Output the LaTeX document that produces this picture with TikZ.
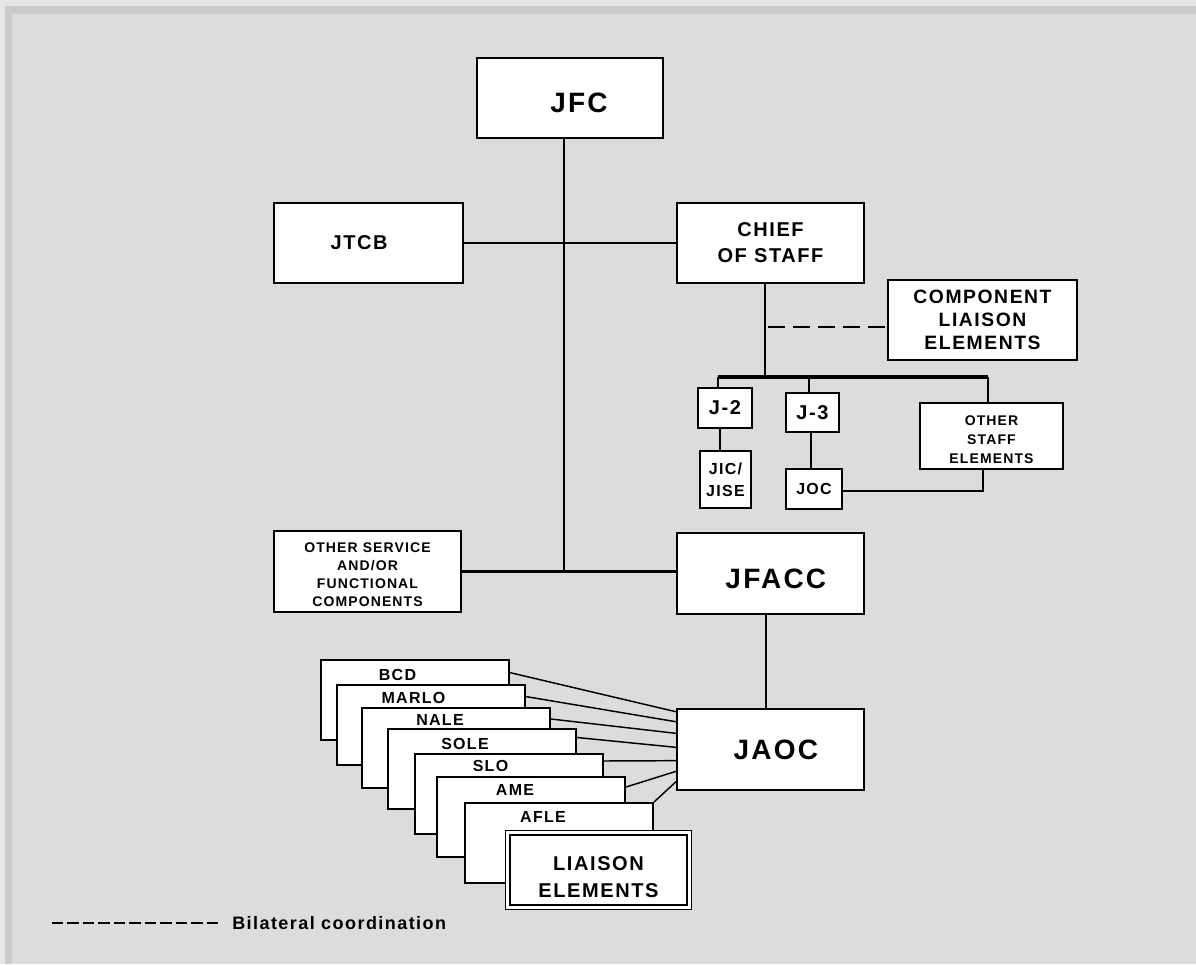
\documentclass[tikz,border=0pt]{standalone}
\usepackage{fontspec}
\newfontfamily\lab{Liberation Sans}[LetterSpace=8]
\usetikzlibrary{calc}
\definecolor{bg}{HTML}{DCDCDC}
\definecolor{bglight}{HTML}{E6E6E6}
\definecolor{bgdark}{HTML}{CBCBCB}
\newcommand{\fs}[2]{\lab\bfseries\fontsize{#1}{#2}\selectfont}
\begin{document}
\begin{tikzpicture}[x=0.75pt,y=-0.75pt,
  wh/.style 2 args={minimum width=#1*0.75pt,minimum height=#2*0.75pt},
  box/.style={draw=black,fill=white,line width=1.5pt,inner sep=0pt,align=center},
  stk/.style={draw=black,fill=white,line width=1.5pt,inner sep=0pt,wh={188}{80}},
  stklbl/.style={inner sep=0pt,font=\fs{12}{14}},
  conn/.style={line width=1.5pt},
  bar/.style={line width=2.4pt},
  thinconn/.style={line width=1.1pt},
  bilat/.style={line width=1.5pt,dash pattern=on 12.75pt off 6pt},
  legdash/.style={line width=1.5pt,dash pattern=on 8.6pt off 3pt}]
\useasboundingbox (0,0) rectangle (1196,964);
% background frame
\fill[bg] (0,0) rectangle (1196,964);
\fill[bglight] (0,0) rectangle (1196,6);
\fill[bglight] (0,0) rectangle (5,964);
\fill[bgdark] (5,6) rectangle (1196,14);
\fill[bgdark] (5,6) rectangle (12,964);

% main boxes
\node[box,wh={186}{80},font=\fs{21}{25}] (jfc) at (570,98) {\rule{0pt}{22.5pt}\hspace*{13.5pt}JFC};
\node[box,wh={189}{80},font=\fs{15}{19.5}] (jtcb) at (368.5,243) {JTCB\hspace*{14pt}};
\node[box,wh={187}{80},font=\fs{15}{19.5}] (cos) at (770.5,243) {CHIEF\\OF STAFF};
\node[box,wh={189}{80},font=\fs{14.5}{17.25}] (comp) at (982.5,320) {COMPONENT\\LIAISON\\ELEMENTS};
\node[box,wh={54}{40},font=\fs{15}{18}] (j2) at (725,408) {J-2};
\node[box,wh={53}{39},font=\fs{15}{18}] (j3) at (812.5,412.5) {J-3};
\node[box,wh={143}{66},font=\fs{10.5}{13.9}] (ose) at (991.5,436) {\rule{0pt}{12.8pt}OTHER\\STAFF\\ELEMENTS};
\node[box,wh={51}{57},font=\fs{12}{16.5}] (jic) at (725.5,479.5) {JIC/\\JISE};
\node[box,wh={56}{40},font=\fs{12}{15}] (joc) at (814,489) {JOC};
\node[box,wh={187}{81},font=\fs{10.5}{13.5}] (osf) at (367.5,571.5) {\rule{0pt}{12pt}OTHER SERVICE\\AND/OR\\FUNCTIONAL\\COMPONENTS};
\node[box,wh={187}{81},font=\fs{21}{25}] (jfacc) at (770.5,573.5) {\rule{0pt}{23.3pt}\hspace*{8pt}JFACC};
\node[box,wh={187}{81},font=\fs{21}{25}] (jaoc) at (770.5,749.5) {\hspace*{8pt}JAOC};

% liaison stack
\node[stk] (bcd) at (414.5,699.5) {};
\node[stklbl] (bcdt) at ([xshift=-12.75pt,yshift=-12.5pt]bcd.north) {BCD};
\node[stk] (marlo) at (430.5,724.5) {};
\node[stklbl] (marlot) at ([xshift=-12.75pt,yshift=-10.5pt]marlo.north) {MARLO};
\node[stk] (nale) at (456,748) {};
\node[stklbl] (nalet) at ([xshift=-12pt,yshift=-9.75pt]nale.north) {NALE};
\node[stk] (sole) at (482,768.5) {};
\node[stklbl] (solet) at ([xshift=-12.75pt,yshift=-12pt]sole.north) {SOLE};
\node[stk] (slo) at (508.5,794) {};
\node[stklbl] (slot) at ([xshift=-13.5pt,yshift=-9.75pt]slo.north) {SLO};
\node[stk] (ame) at (531,817) {};
\node[stklbl] (amet) at ([xshift=-12pt,yshift=-10.5pt]ame.north) {AME};
\node[stk] (afle) at (559,843) {};
\node[stklbl] (aflet) at ([xshift=-12pt,yshift=-11.25pt]afle.north) {AFLE};
\node[draw=black,fill=white,line width=1.1pt,double=white,double distance=2.2pt,inner sep=0pt,
      wh={181.4}{74.4},align=center,font=\fs{15}{20}] (liais) at (598.5,870)
      {\parbox{130pt}{\centering\rule{0pt}{21pt}LIAISON\\ELEMENTS}};

% connectors
\coordinate (js) at ([xshift=-4.5pt]jfc.south);
\draw[conn] (js) -- (js |- osf.east);
\draw[bar] (osf.east) -- (osf.east -| jfacc.west);
\draw[conn] (jtcb.east) -- (cos.west);
\coordinate (cs) at ([xshift=-4.125pt]cos.south);
\coordinate (busL) at (718,377);
\coordinate (busR) at (988,377);
\draw[conn] (cs) -- (cs |- busL);
\draw[bar] (busL) -- (busR);
\draw[conn] (busL) -- (busL |- j2.north);
\coordinate (j3n) at ([xshift=-2.6pt]j3.north);
\draw[conn] (j3n |- busL) -- (j3n);
\draw[conn] (busR) -- (busR |- ose.north);
\coordinate (j2s) at ([xshift=-3.75pt]j2.south);
\draw[conn] (j2s) -- (j2s |- jic.north);
\coordinate (j3s) at ([xshift=-1.1pt]j3.south);
\draw[conn] (j3s) -- (j3s |- joc.north);
\draw[conn] ([yshift=-1.5pt]joc.east) -| ([xshift=-6.4pt]ose.south);
\coordinate (cd) at ([yshift=-5.25pt]comp.west);
\draw[bilat] ([xshift=2.25pt]cd -| cs) -- (cd);
\coordinate (fs) at ([xshift=-3.4pt]jfacc.south);
\draw[conn] (fs) -- (fs |- jaoc.north);

% stack connectors to JAOC
\draw[thinconn] ([yshift=-10.5pt]bcd.north east) -- ([yshift=-2.8pt]jaoc.north west);
\draw[thinconn] ([yshift=-9.75pt]marlo.north east) -- ([yshift=-10.3pt]jaoc.north west);
\draw[thinconn] ([yshift=-9pt]nale.north east) -- ([yshift=-19pt]jaoc.north west);
\draw[thinconn] ([yshift=-7.5pt]sole.north east) -- ([yshift=-29.5pt]jaoc.north west);
\draw[thinconn] ([yshift=-6pt]slo.north east) -- ([yshift=-39.5pt]jaoc.north west);
\draw[thinconn] ([yshift=-8.25pt]ame.north east) -- ([yshift=-47.5pt]jaoc.north west);
\draw[thinconn] (afle.north east) -- ([yshift=-55.3pt]jaoc.north west);

% legend
\node[anchor=west,inner sep=0pt,font=\fs{13.5}{16}] (legtxt) at (232,923) {Bilateral coordination};
\coordinate (lg) at (52,923);
\draw[legdash] (lg) -- ([xshift=-10.5pt]legtxt.west);
\end{tikzpicture}
\end{document}
